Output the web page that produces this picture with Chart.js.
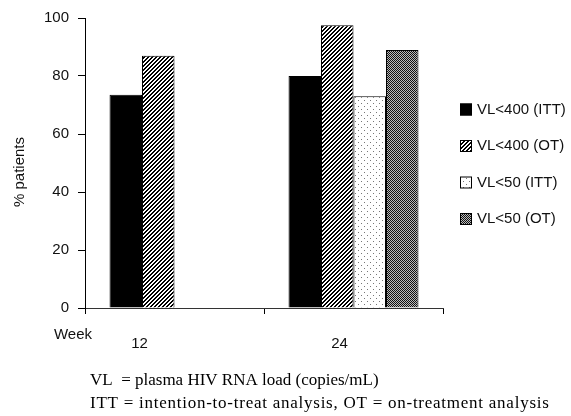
<!DOCTYPE html>
<html>
<head>
<meta charset="utf-8">
<script src="https://cdn.jsdelivr.net/npm/chart.js@4/dist/chart.umd.min.js"></script>
<style>
html,body{margin:0;padding:0;background:#fff;}
#wrap{width:571px;height:416px;position:relative;}
</style>
</head>
<body>
<div id="wrap"><canvas id="c" width="571" height="416"></canvas></div>
<script>
const weeks = ['12', '24'];
const xAxisName = 'Week';
const yAxisName = '% patients';
const seriesNames = ['VL<400 (ITT)', 'VL<400 (OT)', 'VL<50 (ITT)', 'VL<50 (OT)'];
const vl400itt = [73.5, 80];
const vl400ot = [87, 97.5];
const vl50itt = [null, 73];
const vl50ot = [null, 89];
const yTicks = [0, 20, 40, 60, 80, 100];
const footnotes = [
  'VL  = plasma HIV RNA load (copies/mL)',
  'ITT = intention-to-treat analysis, OT = on-treatment analysis'
];

function makePattern(size, painter) {
  const c = document.createElement('canvas');
  c.width = size; c.height = size;
  const g = c.getContext('2d');
  g.fillStyle = '#fff';
  g.fillRect(0, 0, size, size);
  painter(g, size);
  return document.getElementById('c').getContext('2d').createPattern(c, 'repeat');
}
const hatch = makePattern(4, (g, s) => {
  g.fillStyle = '#000';
  for (let x = 0; x < s; x++) for (let y = 0; y < s; y++) {
    const k = (x + y) % 4;
    if (k === 0 || k === 1) g.fillRect(x, y, 1, 1);
  }
});
const dots = makePattern(6, (g) => {
  g.fillStyle = '#777';
  g.fillRect(1, 1, 1, 1);
  g.fillRect(4, 4, 1, 1);
});
const checker = makePattern(2, (g) => {
  g.fillStyle = '#111';
  g.fillRect(0, 0, 1, 1);
  g.fillRect(1, 1, 1, 1);
  g.fillStyle = '#bbb';
  g.fillRect(1, 0, 1, 1);
  g.fillRect(0, 1, 1, 1);
});
const fills = ['#000', hatch, dots, checker];
const seriesData = [vl400itt, vl400ot, vl50itt, vl50ot];

Chart.defaults.color = '#000';
Chart.defaults.font.family = '"Liberation Sans", Arial, sans-serif';
Chart.defaults.font.size = 15;

const extras = {
  id: 'extras',
  afterDraw(chart) {
    const ctx = chart.ctx;
    const xs = chart.scales.x;
    ctx.save();
    ctx.fillStyle = '#111';
    ctx.font = '15px "Liberation Sans", Arial, sans-serif';
    ctx.textBaseline = 'middle';
    // x labels
    ctx.textAlign = 'center';
    ctx.fillText(xAxisName, 73, 335);
    const offs = [-35, -14];
    weeks.forEach((w, i) => {
      ctx.fillText(w, xs.getPixelForValue(i) + offs[i], 344);
    });
    // y title
    ctx.save();
    ctx.translate(20, 172);
    ctx.rotate(-Math.PI / 2);
    ctx.fillText(yAxisName, 0, 0);
    ctx.restore();
    // legend
    const rows = [109.5, 146, 182.5, 219];
    ctx.textAlign = 'left';
    chart.data.datasets.forEach((ds, i) => {
      const y = rows[i];
      ctx.fillStyle = ds.backgroundColor;
      ctx.fillRect(460, y - 6, 12, 12);
      ctx.strokeStyle = '#000';
      ctx.lineWidth = 1;
      ctx.strokeRect(460.5, y - 5.5, 11, 11);
      ctx.fillStyle = '#111';
      ctx.fillText(ds.label, 477, y);
    });
    // footnotes
    ctx.font = '17px "Liberation Serif", "Times New Roman", serif';
    ctx.fillStyle = '#000';
    ctx.fillText(footnotes[0], 90, 381);
    try { ctx.letterSpacing = '0.75px'; } catch (e) {}
    ctx.fillText(footnotes[1], 90, 404);
    try { ctx.letterSpacing = '0px'; } catch (e) {}
    ctx.restore();
  }
};

new Chart(document.getElementById('c'), {
  type: 'bar',
  data: {
    labels: weeks,
    datasets: seriesNames.map((n, i) => ({
      label: n,
      data: seriesData[i],
      backgroundColor: fills[i],
      borderColor: '#000',
      borderWidth: 1,
      categoryPercentage: 0.726,
      barPercentage: 1
    }))
  },
  options: {
    responsive: false,
    animation: false,
    layout: { padding: { left: 0, right: 128, top: 16, bottom: 0 } },
    plugins: { legend: { display: false }, tooltip: { enabled: false } },
    scales: {
      x: {
        grid: { drawOnChartArea: false, tickLength: 6, color: '#000', offset: true },
        border: { color: '#333', width: 1 },
        ticks: { display: false },
        afterFit: s => { s.height = 108; }
      },
      y: {
        min: 0, max: 100,
        afterBuildTicks: s => { s.ticks = yTicks.map(v => ({ value: v })); },
        ticks: { padding: 9, color: '#111' },
        grid: { drawOnChartArea: false, tickLength: 7, color: '#000' },
        border: { color: '#000', width: 1 },
        afterFit: s => { s.width = 85; }
      }
    }
  },
  plugins: [extras]
});
</script>
</body>
</html>
